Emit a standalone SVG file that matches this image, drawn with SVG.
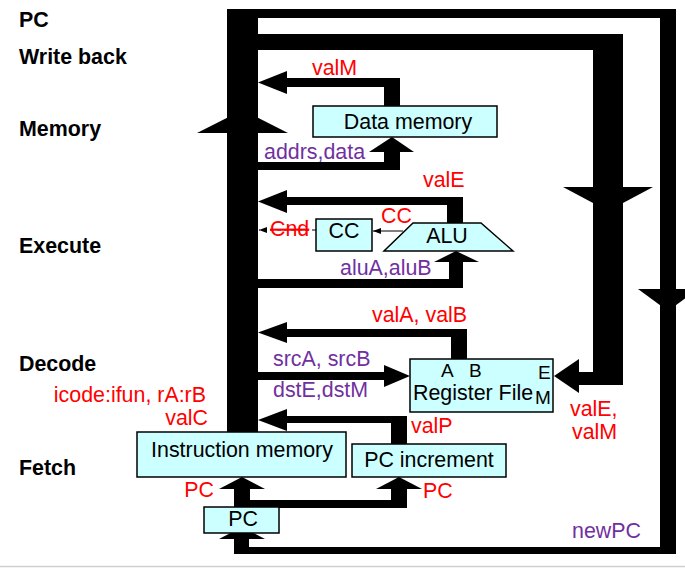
<svg xmlns="http://www.w3.org/2000/svg" width="685" height="569" viewBox="0 0 685 569">
<defs>
<style>
text{font-family:"Liberation Sans",Arial,sans-serif;font-size:21.4px}
.stage{font-weight:bold;fill:#000}
.red{fill:#FF0000}
.pur{fill:#7030A0}
.box{fill:#CCFFFF;stroke:#000;stroke-width:1.5}
.lbl{fill:#000;text-anchor:middle}
.port{font-size:19px}
.bus{fill:#000}
.thin{stroke:#000;stroke-width:1;fill:none}
</style>
<marker id="ah" markerWidth="8" markerHeight="6" refX="8" refY="3" orient="auto" markerUnits="userSpaceOnUse">
<path d="M0,0 L8,3 L0,6 Z" fill="#000"/>
</marker>
</defs>
<rect width="685" height="569" fill="#fff"/>
<line x1="0" y1="566.5" x2="685" y2="566.5" stroke="#d0d0d0" stroke-width="1.5"/>

<g id="stages">
<text class="stage" x="19" y="27">PC</text>
<text class="stage" x="19" y="64">Write back</text>
<text class="stage" x="19" y="136">Memory</text>
<text class="stage" x="19" y="253">Execute</text>
<text class="stage" x="19" y="371">Decode</text>
<text class="stage" x="19" y="475">Fetch</text>
</g>

<g id="connectors" class="bus">
<!-- main bus -->
<rect x="227" y="9" width="31" height="424"/>
<polygon points="197,133 288,133 242.5,110"/>
<!-- newPC loop -->
<rect x="227" y="9" width="449" height="9"/>
<rect x="660" y="9" width="16" height="545"/>
<polygon points="638,289 698,289 668,311"/>
<rect x="234" y="547" width="442" height="7"/>
<rect x="234" y="539" width="15" height="15"/>
<polygon points="219,539 265,539 242,527"/>
<!-- write back loop -->
<rect x="227" y="34" width="396" height="16"/>
<rect x="593" y="34" width="30" height="351"/>
<polygon points="563,187 653,187 608,211"/>
<rect x="579" y="372" width="44" height="13"/>
<polygon points="579,359 579,393 554,376"/>
<!-- valM -->
<rect x="384" y="78" width="16" height="29"/>
<rect x="287" y="78" width="113" height="9"/>
<polygon points="287,71 287,94 258,82.5"/>
<!-- addrs,data -->
<rect x="258" y="162" width="142" height="8"/>
<rect x="384" y="151" width="16" height="19"/>
<polygon points="369,152 414,152 392,137"/>
<!-- valE -->
<rect x="447" y="197" width="16" height="27"/>
<rect x="287" y="197" width="176" height="8"/>
<polygon points="287,190 287,213 258,201.5"/>
<!-- aluA,aluB -->
<rect x="258" y="279" width="205" height="9"/>
<rect x="449" y="261" width="14" height="27"/>
<polygon points="434,262 479,262 456,251"/>
<!-- valA, valB -->
<rect x="451" y="329" width="16" height="31"/>
<rect x="287" y="329" width="180" height="8"/>
<polygon points="287,322 287,343 258,332.5"/>
<!-- srcA,srcB -->
<rect x="258" y="372" width="127" height="8"/>
<polygon points="384,365 384,387 410,376"/>
<!-- valP -->
<rect x="391" y="416" width="16" height="29"/>
<rect x="287" y="416" width="120" height="7"/>
<polygon points="287,409 287,431 258,420"/>
<!-- PC to instr mem & PC increment -->
<rect x="234" y="488" width="16" height="20"/>
<polygon points="219,489 265,489 242,477"/>
<rect x="234" y="500" width="173" height="8"/>
<rect x="391" y="488" width="16" height="20"/>
<polygon points="376,489 422,489 399,477"/>
<!-- thin connectors -->
<line class="thin" x1="316" y1="230" x2="259" y2="230" stroke-dasharray="4,3" marker-end="url(#ah)"/>
<line class="thin" x1="403" y1="231" x2="373" y2="231" marker-end="url(#ah)"/>
</g>

<g id="data-memory">
<rect class="box" x="313" y="106" width="184" height="31"/>
<text class="lbl" x="408" y="129">Data memory</text>
</g>
<g id="cc">
<rect class="box" x="316" y="219" width="56" height="32"/>
<text class="lbl" x="344" y="238">CC</text>
</g>
<g id="alu">
<polygon class="box" points="413,223 481,223 513,251 384,251"/>
<text class="lbl" x="447" y="243">ALU</text>
</g>
<g id="register-file">
<rect class="box" x="410" y="359" width="143" height="53"/>
<text class="port" x="441" y="377">A</text>
<text class="port" x="469" y="377">B</text>
<text class="port" x="538" y="379">E</text>
<text x="413" y="400">Register File</text>
<text class="port" x="535" y="404">M</text>
</g>
<g id="instruction-memory">
<rect class="box" x="137" y="432" width="209" height="45"/>
<text class="lbl" x="242" y="457">Instruction memory</text>
</g>
<g id="pc-increment">
<rect class="box" x="352" y="444" width="154" height="33"/>
<text class="lbl" x="429" y="467">PC increment</text>
</g>
<g id="pc">
<rect class="box" x="204" y="507" width="75" height="26"/>
<text class="lbl" x="243" y="526">PC</text>
</g>

<g id="labels">
<text class="red" x="312" y="75">valM</text>
<text class="pur" x="264" y="159">addrs,data</text>
<text class="red" x="423" y="187">valE</text>
<text class="red" x="270" y="236" text-decoration="line-through">Cnd</text>
<text class="red" x="381" y="223">CC</text>
<text class="pur" x="340" y="275">aluA,aluB</text>
<text class="red" x="372" y="322">valA, valB</text>
<text class="pur" x="273" y="366">srcA, srcB</text>
<text class="pur" x="273" y="397">dstE,dstM</text>
<text class="red" x="206" y="402" text-anchor="end">icode:ifun, rA:rB</text>
<text class="red" x="208" y="425" text-anchor="end">valC</text>
<text class="red" x="411" y="433">valP</text>
<text class="red" x="214" y="497" text-anchor="end">PC</text>
<text class="red" x="423" y="498">PC</text>
<text class="red" x="570" y="416">valE,</text>
<text class="red" x="572" y="439">valM</text>
<text class="pur" x="572" y="538">newPC</text>
</g>
</svg>
